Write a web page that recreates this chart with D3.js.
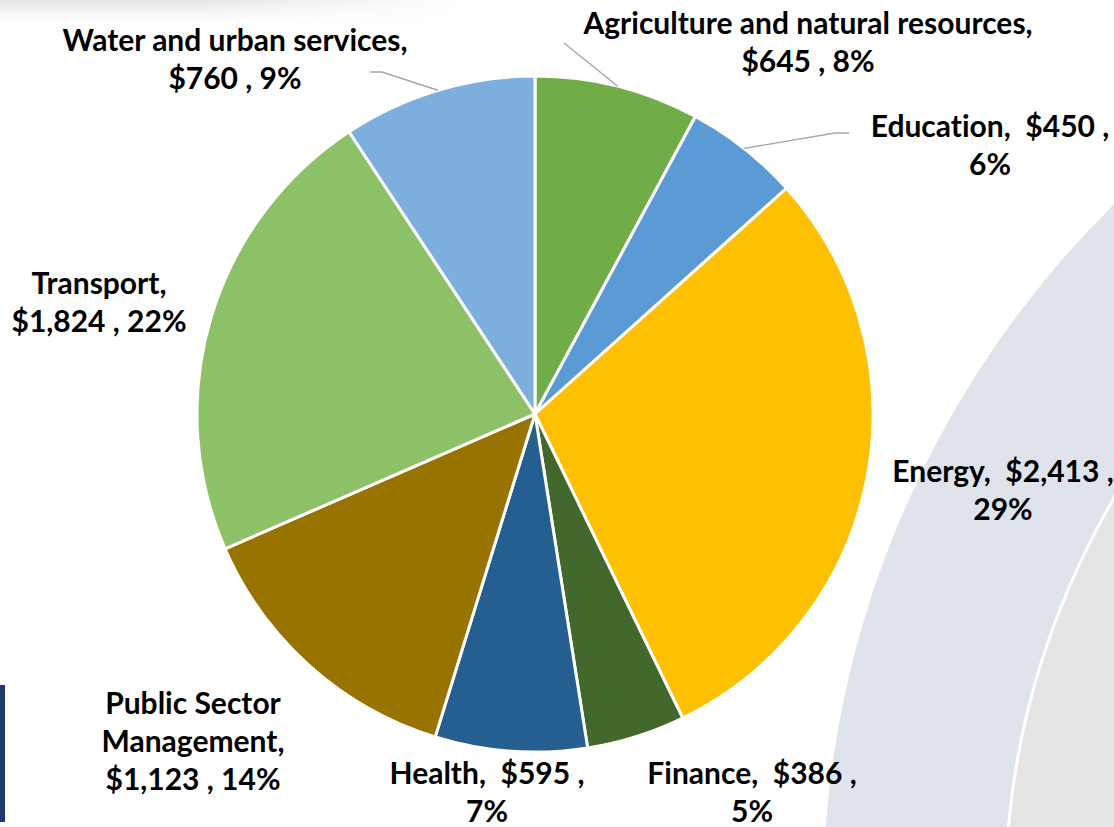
<!DOCTYPE html>
<html lang="en">
<head>
  <meta charset="UTF-8">
  <title>Sector pie</title>
  <script src="https://d3js.org/d3.v7.min.js"></script>
  <style>
    html, body { margin: 0; padding: 0; background: #fff; }
    svg { display: block; }
    text { font-variant-ligatures: none; }
  </style>
</head>

<body>
  <svg id="pie"></svg>
  <script>
    // values
    const categories = ["Agriculture and natural resources", "Education", "Energy", "Finance",
      "Health", "Public Sector Management", "Transport", "Water and urban services"];
    const values = [645, 450, 2413, 386, 595, 1123, 1824, 760];
    const percents = [8, 6, 29, 5, 7, 14, 22, 9];
    const colors = ["#70AD47", "#5B9BD5", "#FFC000", "#43682B", "#255E91", "#997300", "#8CC168", "#7CAFDD"];
    // how each label wraps
    const wraps = ["name", "pct", "pct", "pct", "pct", "three", "name", "name"];

    const width = 1114;
    const height = 827;
    const cx = 535, cy = 414, radius = 338;

    // label anchors (centre x, first baseline) and leader elbows
    const labelPos = [[808, 34], [990, 137], [1003, 482], [752, 784], [487, 784], [193, 714], [99, 294], [235, 51]];
    const lineGap = 38;
    const leaders = { 0: [[564, 43]], 1: [[849, 133], [835, 133]], 7: [[370, 72], [382, 72]] };

    const svg = d3.select("#pie")
      .attr("width", width)
      .attr("height", height);

    // slide background decoration
    const defs = svg.append("defs");
    const shade = defs.append("linearGradient").attr("id", "shade")
      .attr("x1", 0).attr("y1", 0).attr("x2", 0).attr("y2", 1);
    shade.append("stop").attr("offset", 0).attr("stop-color", "#e4e4e4");
    shade.append("stop").attr("offset", 1).attr("stop-color", "#fff").attr("stop-opacity", 0);
    const fadeX = defs.append("linearGradient").attr("id", "fadeX");
    fadeX.append("stop").attr("offset", 0).attr("stop-color", "#fff").attr("stop-opacity", 0);
    fadeX.append("stop").attr("offset", 1).attr("stop-color", "#fff");
    svg.append("rect").attr("width", 460).attr("height", 30).attr("fill", "url(#shade)");
    svg.append("rect").attr("x", 200).attr("width", 260).attr("height", 30).attr("fill", "url(#fadeX)");

    svg.append("circle").attr("cx", 1800).attr("cy", 900).attr("r", 977).attr("fill", "#DFE3EC");
    svg.append("circle").attr("cx", 1800).attr("cy", 900).attr("r", 795)
      .attr("fill", "#E5E5E5").attr("stroke", "#fff").attr("stroke-width", 3);

    svg.append("rect").attr("x", 0).attr("y", 685).attr("width", 5).attr("height", 137).attr("fill", "#223A6B");

    // pie
    const pie = d3.pie().sort(null).value(d => d);
    const arcs = pie(values);
    const arc = d3.arc().innerRadius(0).outerRadius(radius);

    const g = svg.append("g").attr("transform", `translate(${cx},${cy})`);
    g.selectAll("path")
      .data(arcs)
      .enter()
      .append("path")
      .attr("d", arc)
      .attr("fill", (d, i) => colors[i])
      .attr("stroke", "#fff")
      .attr("stroke-width", 3)
      .attr("stroke-linejoin", "round");

    // leader lines, ending on the rim at the slice middle
    Object.keys(leaders).forEach(k => {
      const a = arcs[+k];
      const mid = (a.startAngle + a.endAngle) / 2;
      const end = [cx + radius * Math.sin(mid), cy - radius * Math.cos(mid)];
      svg.append("path")
        .attr("d", d3.line()(leaders[k].concat([end])))
        .attr("fill", "none")
        .attr("stroke", "#A6A6A6")
        .attr("stroke-width", 1.4);
    });

    // labels
    const fmt = d3.format("$,");
    function labelLines(i) {
      const money = fmt(values[i]);
      const pct = percents[i] + "%";
      const name = categories[i];
      if (wraps[i] === "name") return [name + ",", money + " , " + pct];
      if (wraps[i] === "pct") return [name + ",  " + money + " ,", pct];
      return ["Public Sector", "Management,", money + " , " + pct];
    }

    categories.forEach((c, i) => {
      const t = svg.append("text")
        .attr("x", labelPos[i][0])
        .attr("y", labelPos[i][1])
        .attr("text-anchor", "middle")
        .attr("font-family", "Lato, 'Open Sans', sans-serif")
        .attr("font-weight", "bold")
        .attr("font-size", 30)
        .attr("fill", "#000");
      labelLines(i).forEach((line, j) => {
        t.append("tspan")
          .attr("x", labelPos[i][0])
          .attr("y", labelPos[i][1] + j * lineGap)
          .style("white-space", "pre")
          .text(line);
      });
    });
  </script>
</body>
</html>
